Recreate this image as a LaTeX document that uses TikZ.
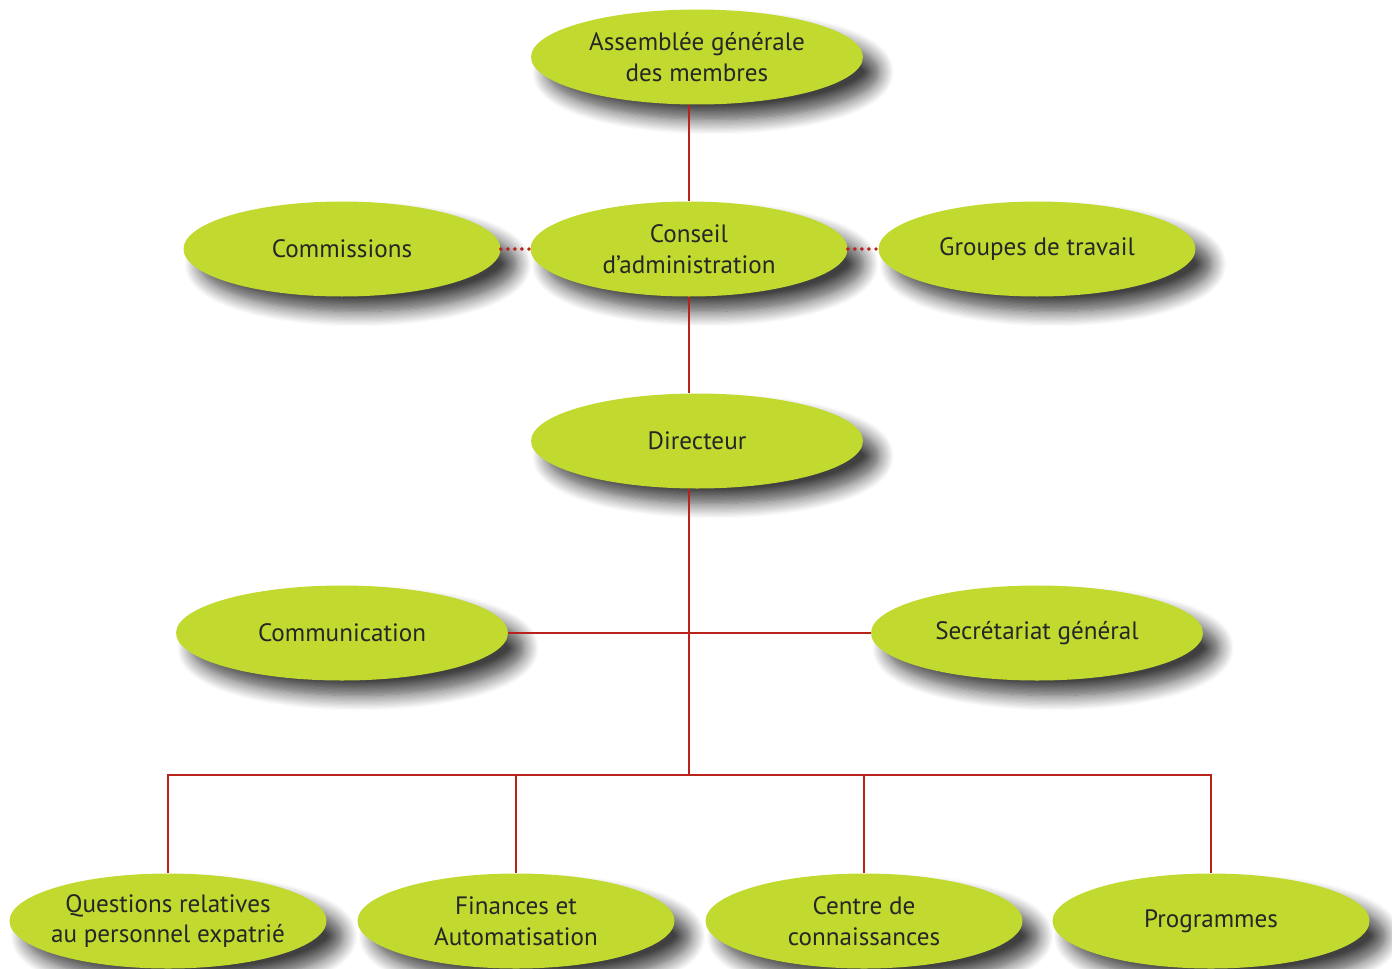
\documentclass[tikz,border=0pt]{standalone}
\usepackage{fontspec}
\setmainfont{PT Sans}
\usetikzlibrary{shapes.geometric,shadows.blur}
\definecolor{leaf}{HTML}{C2D92F}
\definecolor{wire}{HTML}{B8231C}
\definecolor{ink}{HTML}{262626}
\tikzset{
  orgbox/.style={ellipse, fill=leaf, inner ysep=0pt, inner xsep=-0.4cm,
    minimum width=6.34cm, minimum height=1.9cm,
    align=center, text=ink, font=\fontsize{14.3}{17.5}\selectfont,
    blur shadow={shadow xshift=0.32cm, shadow yshift=-0.3cm, shadow blur radius=0.3cm,
      shadow blur steps=12, shadow opacity=75}},
  widebox/.style={orgbox, minimum width=6.64cm},
  link/.style={wire, line width=1.6pt},
  dotlink/.style={wire, line width=2.2pt, dash pattern=on 0pt off 4pt, line cap=round}
}
\begin{document}
\begin{tikzpicture}[x=0.02cm, y=-0.02cm]
  \useasboundingbox (0,0) rectangle (1392,968);

  % top levels
  \node[widebox] (assemblee) at (697,57)  {Assemblée générale\\des membres};
  \node[orgbox]  (conseil)   at (689,249) {Conseil\\d'administration};
  \node[orgbox]  (commissions) at (342,249) {Commissions};
  \node[orgbox]  (groupes)   at (1037,249) {Groupes de travail};
  \node[widebox] (directeur) at (697,441) {Directeur};

  % staff
  \node[widebox] (communication) at (342,633)  {Communication};
  \node[widebox] (secretariat)   at (1037,633) {Secrétariat général};

  % departments
  \node[orgbox] (questions)  at (168,921)  {Questions relatives\\au personnel expatrié};
  \node[orgbox] (finances)   at (516,921)  {Finances et\\Automatisation};
  \node[orgbox] (centre)     at (864,921)  {Centre de\\connaissances};
  \node[orgbox] (programmes) at (1211,921) {Programmes};

  \coordinate (bus) at (689,775);

  % connectors
  \draw[link] (conseil.north |- assemblee.south) -- (conseil.north);
  \draw[link] (conseil.south) -- (conseil.south |- directeur.north);
  \draw[link] (directeur.south -| bus) -- (bus);
  \draw[link] (communication.east) -- (secretariat.west);
  \draw[link] (questions.north) |- (bus) -| (programmes.north);
  \draw[link] (finances.north) -- (finances.north |- bus);
  \draw[link] (centre.north) -- (centre.north |- bus);
  \draw[dotlink] (commissions.east) -- (conseil.west);
  \draw[dotlink] (conseil.east) -- (groupes.west);
\end{tikzpicture}
\end{document}
